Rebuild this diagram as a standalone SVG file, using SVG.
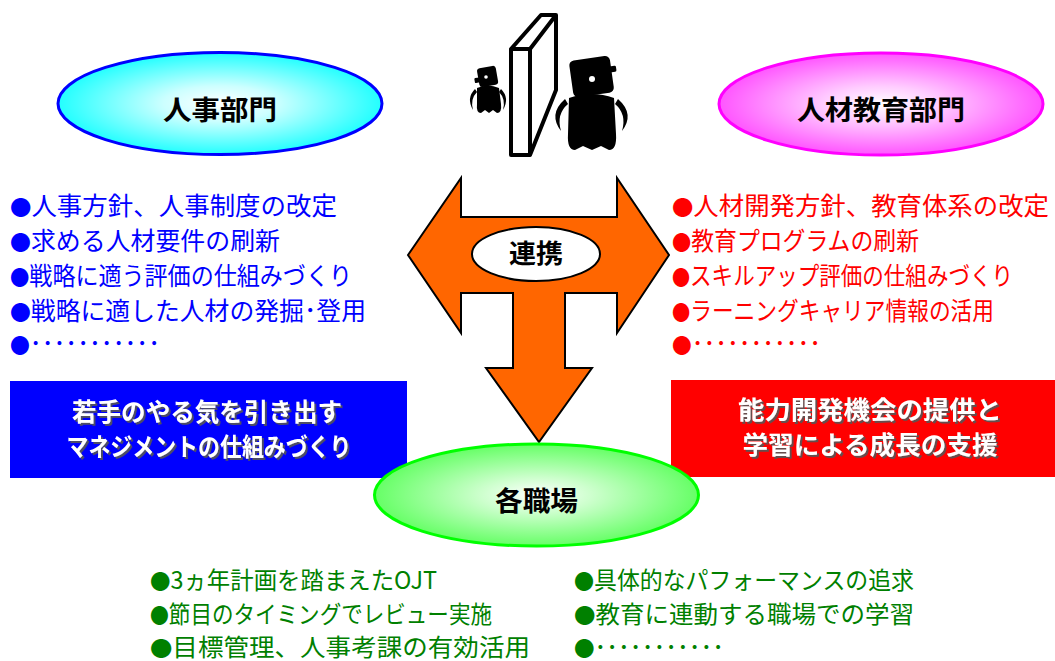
<svg xmlns="http://www.w3.org/2000/svg" width="1055" height="661" viewBox="0 0 1055 661">
  <defs>
    <radialGradient id="gCyan" cx="50%" cy="50%" r="50%">
      <stop offset="0" stop-color="#FFFFFF"/>
      <stop offset="0.35" stop-color="#CCFFFF"/>
      <stop offset="1" stop-color="#22FFFF"/>
    </radialGradient>
    <radialGradient id="gPink" cx="50%" cy="50%" r="50%">
      <stop offset="0" stop-color="#FFFFFF"/>
      <stop offset="0.35" stop-color="#FFCCFF"/>
      <stop offset="1" stop-color="#FF55FF"/>
    </radialGradient>
    <radialGradient id="gGreen" cx="50%" cy="50%" r="50%">
      <stop offset="0" stop-color="#FFFFFF"/>
      <stop offset="0.35" stop-color="#CCFFCC"/>
      <stop offset="1" stop-color="#66FF66"/>
    </radialGradient>
    <filter id="shadow" x="-10%" y="-30%" width="120%" height="160%">
      <feDropShadow dx="2" dy="2" stdDeviation="0.4" flood-color="#555555" flood-opacity="0.9"/>
    </filter>
  </defs>
  <style>
    text { font-family: "Noto Sans CJK JP", "Noto Sans", sans-serif; }
    .label { font-size: 27px; font-weight: bold; fill: #000; text-anchor: middle; }
    .list { font-size: 25px; }
    .blue { fill: #0000FF; }
    .red { fill: #FF0000; }
    .green { fill: #008000; font-size: 24px; }
    .dot { font-size: 21px; }
    .boxtext { font-size: 25px; font-weight: bold; fill: #FFFFFF; text-anchor: middle; filter: url(#shadow); }
    .fig { fill: #000; }
  </style>

  <rect width="1055" height="661" fill="#FFFFFF"/>

  <!-- slab and two figures -->
  <g id="figures">
    <g fill="#FFFFFF" stroke="#000" stroke-width="4" stroke-linejoin="round">
      <path d="M511,49 L541,15 L556,15 L556,90 L530,155 L511,155 Z"/>
      <path d="M511,49 L530,49 L530,155 M530,49 L556,15" fill="none"/>
    </g>
    <!-- small figure -->
    <g transform="rotate(-10 487 76)">
      <rect class="fig" x="478" y="67" width="19" height="19" rx="3"/>
      <rect class="fig" x="474" y="76" width="6" height="5" rx="1"/>
    </g>
    <circle cx="486" cy="77" r="1.8" fill="#FFFFFF"/>
    <path class="fig" d="M477,88 Q488,83 499,88 L501,104 Q502,113 497,113 L493,110 L489,113 L485,110 L481,113 Q476,113 477,104 Z"/>
    <path class="fig" d="M475,89 Q466,98 473,110 Q470,99 477,92 Z"/>
    <path class="fig" d="M501,89 Q510,98 503,110 Q506,99 499,92 Z"/>
    <!-- large figure -->
    <g transform="rotate(-8 592 76)">
      <rect class="fig" x="571" y="58" width="41" height="37" rx="5"/>
      <rect class="fig" x="609" y="69" width="8" height="6" rx="1.5"/>
    </g>
    <circle cx="592" cy="79" r="3" fill="#FFFFFF"/>
    <path class="fig" d="M569,98 Q592,90 614,98 L616,134 Q617,150 609,150 L601,146 L592,150 L583,146 L575,150 Q567,150 568,134 Z"/>
    <path class="fig" d="M565,99 Q548,114 561,131 Q556,114 568,104 Z"/>
    <path class="fig" d="M618,99 Q635,114 622,131 Q627,114 615,104 Z"/>
  </g>

  <!-- connectors -->
  <g id="connectors">
    <path d="M408,255 L461,178 L461,217 L617,217 L617,178 L669,255 L617,333 L617,293 L565,293 L565,368 L592,368 L539,442 L486,368 L513,368 L513,293 L461,293 L461,333 Z" fill="#FF6600" stroke="#000" stroke-width="2" stroke-linejoin="miter"/>
  </g>

  <g id="renkei">
    <ellipse cx="536" cy="254" rx="64" ry="27" fill="#FFFFFF" stroke="#000" stroke-width="2"/>
    <text class="label" x="536" y="263" textLength="54" lengthAdjust="spacingAndGlyphs" style="font-size:26px">連携</text>
  </g>

  <g id="jinji">
    <ellipse cx="220" cy="103.5" rx="162" ry="51" fill="url(#gCyan)" stroke="#0000FF" stroke-width="3"/>
    <text class="label" x="220" y="120" textLength="114" lengthAdjust="spacingAndGlyphs">人事部門</text>
  </g>

  <g id="kyoiku">
    <ellipse cx="881" cy="104" rx="162" ry="51" fill="url(#gPink)" stroke="#FF00FF" stroke-width="3"/>
    <text class="label" x="881" y="120" textLength="168" lengthAdjust="spacingAndGlyphs">人材教育部門</text>
  </g>

  <g id="jinji-list" class="list blue">
    <text x="10" y="215" textLength="327" lengthAdjust="spacingAndGlyphs"><tspan class="dot">●</tspan>人事方針、人事制度の改定</text>
    <text x="10" y="250" textLength="270" lengthAdjust="spacingAndGlyphs"><tspan class="dot">●</tspan>求める人材要件の刷新</text>
    <text x="10" y="285" textLength="342" lengthAdjust="spacingAndGlyphs"><tspan class="dot">●</tspan>戦略に適う評価の仕組みづくり</text>
    <text x="10" y="320" textLength="356" lengthAdjust="spacingAndGlyphs"><tspan class="dot">●</tspan>戦略に適した人材の発掘･登用</text>
    <text x="10" y="353" textLength="150" lengthAdjust="spacingAndGlyphs"><tspan class="dot">●</tspan>･･･････････</text>
  </g>

  <g id="kyoiku-list" class="list red">
    <text x="672" y="215" textLength="377" lengthAdjust="spacingAndGlyphs"><tspan class="dot">●</tspan>人材開発方針、教育体系の改定</text>
    <text x="672" y="250" textLength="247" lengthAdjust="spacingAndGlyphs"><tspan class="dot">●</tspan>教育プログラムの刷新</text>
    <text x="672" y="285" textLength="341" lengthAdjust="spacingAndGlyphs"><tspan class="dot">●</tspan>スキルアップ評価の仕組みづくり</text>
    <text x="672" y="320" textLength="322" lengthAdjust="spacingAndGlyphs"><tspan class="dot">●</tspan>ラーニングキャリア情報の活用</text>
    <text x="672" y="353" textLength="149" lengthAdjust="spacingAndGlyphs"><tspan class="dot">●</tspan>･･･････････</text>
  </g>

  <g id="jinji-goal">
    <rect x="10" y="381" width="397" height="97" fill="#0000FF"/>
    <text class="boxtext" x="207" y="421" textLength="270" lengthAdjust="spacingAndGlyphs">若手のやる気を引き出す</text>
    <text class="boxtext" x="209" y="456" textLength="285" lengthAdjust="spacingAndGlyphs">マネジメントの仕組みづくり</text>
  </g>

  <g id="kyoiku-goal">
    <rect x="671" y="380" width="384" height="97" fill="#FF0000"/>
    <text class="boxtext" x="870" y="419" textLength="264" lengthAdjust="spacingAndGlyphs">能力開発機会の提供と</text>
    <text class="boxtext" x="870" y="454" textLength="255" lengthAdjust="spacingAndGlyphs">学習による成長の支援</text>
  </g>

  <g id="shokuba">
    <ellipse cx="536.5" cy="495" rx="162" ry="51" fill="url(#gGreen)" stroke="#00FF00" stroke-width="3"/>
    <text class="label" x="536.5" y="511" textLength="83" lengthAdjust="spacingAndGlyphs">各職場</text>
  </g>

  <g id="shokuba-list" class="green">
    <text x="150" y="589" textLength="287" lengthAdjust="spacingAndGlyphs"><tspan class="dot">●</tspan>3ヵ年計画を踏まえたOJT</text>
    <text x="150" y="623" textLength="342" lengthAdjust="spacingAndGlyphs"><tspan class="dot">●</tspan>節目のタイミングでレビュー実施</text>
    <text x="150" y="656" textLength="380" lengthAdjust="spacingAndGlyphs"><tspan class="dot">●</tspan>目標管理、人事考課の有効活用</text>
    <text x="574" y="589" textLength="340" lengthAdjust="spacingAndGlyphs"><tspan class="dot">●</tspan>具体的なパフォーマンスの追求</text>
    <text x="574" y="623" textLength="340" lengthAdjust="spacingAndGlyphs"><tspan class="dot">●</tspan>教育に連動する職場での学習</text>
    <text x="574" y="656" textLength="150" lengthAdjust="spacingAndGlyphs"><tspan class="dot">●</tspan>･･･････････</text>
  </g>
</svg>
